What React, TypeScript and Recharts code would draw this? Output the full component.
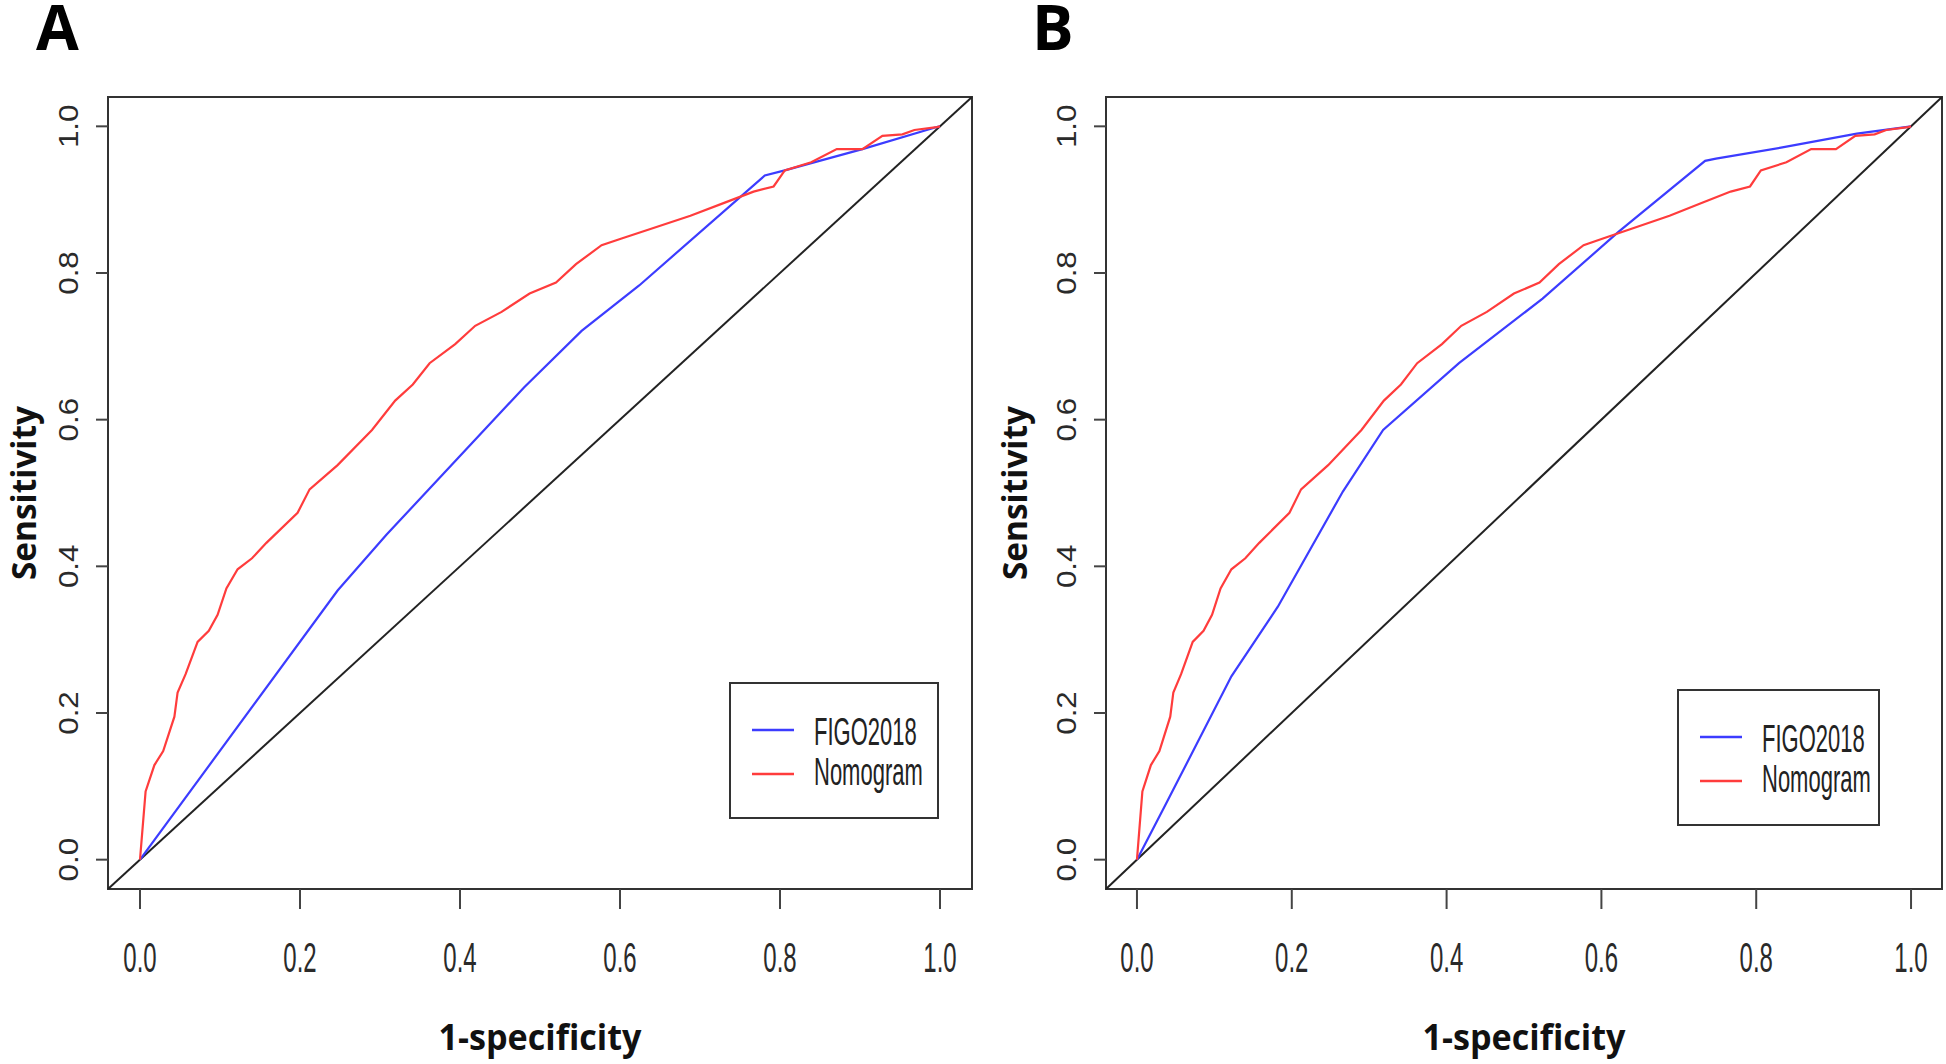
import { LineChart, Line, XAxis, YAxis, ReferenceLine, ReferenceArea } from "recharts";

// axis ticks (both axes share the same 0..1 scale)
const axisTicks = [0, 0.2, 0.4, 0.6, 0.8, 1.0];
const axisDomain: [number, number] = [-0.04, 1.04];

// Nomogram ROC curve (same model in both panels)
const nomogramFpr = [0, 0.007, 0.018, 0.029, 0.043, 0.047, 0.057, 0.072, 0.086, 0.097, 0.108, 0.122, 0.14, 0.158, 0.197, 0.212, 0.247, 0.29, 0.319, 0.341, 0.362, 0.394, 0.419, 0.452, 0.487, 0.52, 0.545, 0.577, 0.602, 0.638, 0.688, 0.731, 0.767, 0.792, 0.806, 0.839, 0.871, 0.903, 0.928, 0.953, 0.968, 0.996, 1.0];
const nomogramTpr = [0, 0.093, 0.129, 0.148, 0.195, 0.228, 0.253, 0.297, 0.312, 0.334, 0.37, 0.396, 0.411, 0.432, 0.473, 0.505, 0.538, 0.586, 0.626, 0.648, 0.677, 0.703, 0.728, 0.747, 0.772, 0.787, 0.812, 0.838, 0.847, 0.86, 0.878, 0.896, 0.911, 0.918, 0.94, 0.951, 0.969, 0.969, 0.987, 0.989, 0.995, 0.999, 1.0];

// FIGO2018 ROC curve, panel A
const figoAFpr = [0, 0.247, 0.308, 0.48, 0.552, 0.624, 0.781, 0.806, 0.903, 0.996, 1.0];
const figoATpr = [0, 0.367, 0.443, 0.644, 0.721, 0.783, 0.933, 0.94, 0.969, 0.999, 1.0];

// FIGO2018 ROC curve, panel B
const figoBFpr = [0, 0.035, 0.122, 0.182, 0.266, 0.318, 0.416, 0.524, 0.622, 0.734, 0.748, 0.832, 0.93, 0.993, 1.0];
const figoBTpr = [0, 0.071, 0.25, 0.345, 0.502, 0.586, 0.677, 0.765, 0.856, 0.953, 0.956, 0.971, 0.99, 0.999, 1.0];

const seriesNames = ["FIGO2018", "Nomogram"];
const seriesColors = ["#3c3cff", "#ff3c3c"];
const xTitle = "1-specificity";
const yTitle = "Sensitivity";

const toPoints = (xs: number[], ys: number[]) => xs.map((x, i) => ({ fpr: x, tpr: ys[i] }));

const tickFont = "'Liberation Sans', Arial, sans-serif";
const titleFont = "'Open Sans', 'Noto Sans', sans-serif";

function XTick(props: any) {
    const { x, y, payload } = props;
    return (
        <text
            transform={`translate(${x},${y + 61}) scale(1,1.75)`}
            textAnchor="middle"
            fontFamily={tickFont}
            fontSize={24}
            fill="#2a2a2a"
        >
            {payload.value.toFixed(1)}
        </text>
    );
}

function YTick(props: any) {
    const { x, y, payload } = props;
    return (
        <text
            transform={`translate(${x - 16},${y}) rotate(-90) scale(1.12,1)`}
            textAnchor="middle"
            fontFamily={tickFont}
            fontSize={28}
            fill="#2a2a2a"
        >
            {payload.value.toFixed(1)}
        </text>
    );
}

type PanelProps = {
    letter: string;
    left: number;
    width: number;
    plotLeft: number;
    plotRight: number;
    figo: { fpr: number; tpr: number }[];
    legend: { x: number; y: number; w: number; h: number };
    yTitleX: number;
    letterX: number;
};

const HEIGHT = 1064;
const PLOT_TOP = 97;
const PLOT_BOTTOM = 889;

function Panel({ letter, left, width, plotLeft, plotRight, figo, legend, yTitleX, letterX }: PanelProps) {
    const nomogram = toPoints(nomogramFpr, nomogramTpr);
    const plotCenterX = (plotLeft + plotRight) / 2;
    const plotCenterY = (PLOT_TOP + PLOT_BOTTOM) / 2;
    return (
        <div style={{ position: "absolute", left, top: 0, width, height: HEIGHT }}>
            <LineChart
                width={width}
                height={HEIGHT}
                margin={{ top: PLOT_TOP, right: width - plotRight, left: plotLeft - 60, bottom: HEIGHT - PLOT_BOTTOM - 60 }}
            >
                <XAxis
                    dataKey="fpr"
                    type="number"
                    domain={axisDomain}
                    allowDataOverflow
                    ticks={axisTicks}
                    interval={0}
                    height={60}
                    axisLine={false}
                    tickSize={20}
                    tickLine={{ stroke: "#444", strokeWidth: 2 }}
                    tick={<XTick />}
                />
                <YAxis
                    type="number"
                    domain={axisDomain}
                    allowDataOverflow
                    ticks={axisTicks}
                    interval={0}
                    width={60}
                    axisLine={false}
                    tickSize={12}
                    tickLine={{ stroke: "#444", strokeWidth: 2 }}
                    tick={<YTick />}
                />
                <ReferenceArea
                    x1={axisDomain[0]}
                    x2={axisDomain[1]}
                    y1={axisDomain[0]}
                    y2={axisDomain[1]}
                    fill="none"
                    fillOpacity={0}
                    stroke="#333"
                    strokeWidth={2}
                />
                <ReferenceLine
                    segment={[
                        { x: axisDomain[0], y: axisDomain[0] },
                        { x: axisDomain[1], y: axisDomain[1] },
                    ]}
                    stroke="#222"
                    strokeWidth={2}
                />
                <Line
                    data={figo}
                    dataKey="tpr"
                    name={seriesNames[0]}
                    type="linear"
                    stroke={seriesColors[0]}
                    strokeWidth={2.2}
                    dot={false}
                    isAnimationActive={false}
                />
                <Line
                    data={nomogram}
                    dataKey="tpr"
                    name={seriesNames[1]}
                    type="linear"
                    stroke={seriesColors[1]}
                    strokeWidth={2.2}
                    dot={false}
                    isAnimationActive={false}
                />
            </LineChart>

            <svg
                width={width}
                height={HEIGHT}
                style={{ position: "absolute", left: 0, top: 0, pointerEvents: "none" }}
            >
                <text x={letterX} y={50} fontFamily={titleFont} fontWeight={700} fontSize={62} fill="#000">
                    {letter}
                </text>
                <text
                    x={plotCenterX}
                    y={1050}
                    textAnchor="middle"
                    fontFamily={titleFont}
                    fontWeight={700}
                    fontSize={36}
                    textLength={203}
                    lengthAdjust="spacingAndGlyphs"
                    fill="#111"
                >
                    {xTitle}
                </text>
                <text
                    transform={`translate(${yTitleX},${plotCenterY}) rotate(-90)`}
                    textAnchor="middle"
                    fontFamily={titleFont}
                    fontWeight={700}
                    fontSize={34}
                    textLength={174}
                    lengthAdjust="spacingAndGlyphs"
                    fill="#111"
                >
                    {yTitle}
                </text>

                <g transform={`translate(${legend.x},${legend.y})`}>
                    <rect x={0} y={0} width={legend.w} height={legend.h} fill="#fff" stroke="#333" strokeWidth={2} />
                    {seriesNames.map((name, i) => (
                        <g key={name}>
                            <line x1={22} x2={64} y1={47 + i * 44} y2={47 + i * 44} stroke={seriesColors[i]} strokeWidth={2.5} />
                            <text
                                transform={`translate(84,${62 + i * 40}) scale(1,1.75)`}
                                fontFamily={tickFont}
                                fontSize={22}
                                fill="#222"
                            >
                                {name}
                            </text>
                        </g>
                    ))}
                </g>
            </svg>
        </div>
    );
}

export default function App() {
    return (
        <div style={{ position: "absolute", left: 0, top: 0, width: 1946, height: HEIGHT, background: "#fff" }}>
            <Panel
                letter="A"
                left={0}
                width={980}
                plotLeft={108}
                plotRight={972}
                figo={toPoints(figoAFpr, figoATpr)}
                legend={{ x: 730, y: 683, w: 208, h: 135 }}
                yTitleX={36}
                letterX={36}
            />
            <Panel
                letter="B"
                left={980}
                width={966}
                plotLeft={126}
                plotRight={962}
                figo={toPoints(figoBFpr, figoBTpr)}
                legend={{ x: 698, y: 690, w: 201, h: 135 }}
                yTitleX={47}
                letterX={52}
            />
        </div>
    );
}
